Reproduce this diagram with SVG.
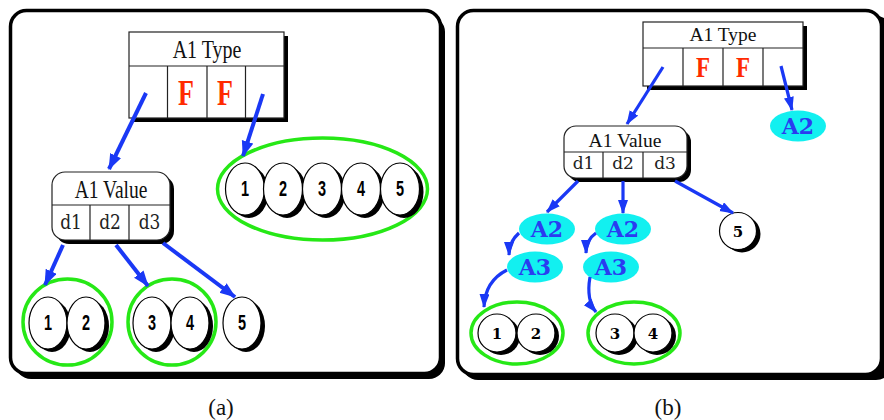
<svg xmlns="http://www.w3.org/2000/svg" width="884" height="420" viewBox="0 0 884 420">
  <style>
    .frame { fill: #fff; stroke: #000; stroke-width: 3.5; }
    .shadow { fill: #000; stroke: none; }
    .cell { fill: #fff; stroke: #222; stroke-width: 1.2; }
    .div { stroke: #222; stroke-width: 1.2; fill: none; }
    .serif { font-family: "Liberation Serif", "Times New Roman", serif; fill: #111; text-anchor: middle; }
    .mono { font-family: "DejaVu Serif", "Courier New", serif; fill: #222; text-anchor: middle; }
    .flag { font-family: "Liberation Serif", "Times New Roman", serif; font-weight: bold; fill: #ff2a00; text-anchor: middle; }
    .digit { font-family: "Liberation Sans", Arial, sans-serif; font-weight: bold; fill: #000; text-anchor: middle; }
    .digitb { font-family: "DejaVu Serif", "Courier New", serif; font-weight: bold; fill: #000; text-anchor: middle; }
    .ball { fill: #fff; stroke: #000; stroke-width: 1.2; }
    .ring { fill: none; stroke: #26e816; stroke-width: 3.5; }
    .tag { fill: #12f0f0; stroke: none; }
    .tagtxt { font-family: "DejaVu Serif", "Courier New", serif; font-weight: bold; font-size: 22px; fill: #2a3cf0; text-anchor: middle; }
    .link { fill: none; stroke: #1a38f5; stroke-linecap: butt; }
    .la { stroke-width: 4; marker-end: url(#headA); }
    .lb { stroke-width: 3.2; marker-end: url(#headB); }
    .cap { font-family: "Liberation Serif", "Times New Roman", serif; font-size: 23px; fill: #111; text-anchor: middle; }
  </style>
  <defs>
    <marker id="headA" markerUnits="userSpaceOnUse" markerWidth="18" markerHeight="14" refX="15" refY="6" orient="auto">
      <path d="M0,0 L16,6 L0,12 z" fill="#1a38f5"/>
    </marker>
    <marker id="headB" markerUnits="userSpaceOnUse" markerWidth="16" markerHeight="12" refX="13" refY="5" orient="auto">
      <path d="M0,0 L14,5 L0,10 z" fill="#1a38f5"/>
    </marker>
  </defs>

  <!-- panel frames -->
  <g id="frame-a">
    <rect class="shadow" x="15" y="16" width="430" height="363" rx="16"/>
    <rect class="frame" x="10.5" y="10.5" width="430" height="363" rx="16"/>
  </g>
  <g id="frame-b">
    <rect class="shadow" x="462" y="16" width="430" height="364" rx="16"/>
    <rect class="frame" x="457.5" y="10.5" width="424" height="364" rx="16"/>
  </g>

  <!-- ===== panel (a) ===== -->
  <g id="a-type">
    <rect class="shadow" x="133" y="36" width="155" height="86"/>
    <rect class="cell" x="129" y="32" width="155" height="86"/>
    <path class="div" d="M129,66 H284 M167.5,66 V118 M207,66 V118 M245.5,66 V118"/>
    <text class="serif" font-size="20" transform="translate(207,58) scale(1,1.25)">A1 Type</text>
    <text class="flag" font-size="26" transform="translate(186,105) scale(1,1.4)">F</text>
    <text class="flag" font-size="26" transform="translate(225,105) scale(1,1.4)">F</text>
  </g>

  <g id="a-value">
    <rect class="shadow" x="56" y="176" width="118" height="68" rx="13"/>
    <rect class="cell" x="52" y="172" width="118" height="68" rx="13"/>
    <path class="div" d="M52,205 H170 M90,205 V240 M129,205 V240"/>
    <text class="serif" font-size="19.5" transform="translate(111,198) scale(1,1.25)">A1 Value</text>
    <text class="mono" font-size="17" transform="translate(71,229) scale(1,1.25)">d1</text>
    <text class="mono" font-size="17" transform="translate(110,229) scale(1,1.25)">d2</text>
    <text class="mono" font-size="17" transform="translate(149.5,229) scale(1,1.25)">d3</text>
  </g>

  <g id="a-set12345">
    <ellipse class="ring" cx="322.5" cy="189" rx="105" ry="51"/>
    <ellipse class="shadow" cx="249" cy="192" rx="19.5" ry="26"/>
    <ellipse class="ball" cx="245" cy="189" rx="19.5" ry="26"/>
    <ellipse class="shadow" cx="287" cy="192" rx="19.5" ry="26"/>
    <ellipse class="ball" cx="283" cy="189" rx="19.5" ry="26"/>
    <ellipse class="shadow" cx="326" cy="192" rx="19.5" ry="26"/>
    <ellipse class="ball" cx="322" cy="189" rx="19.5" ry="26"/>
    <ellipse class="shadow" cx="365" cy="192" rx="19.5" ry="26"/>
    <ellipse class="ball" cx="361" cy="189" rx="19.5" ry="26"/>
    <ellipse class="shadow" cx="404" cy="192" rx="19.5" ry="26"/>
    <ellipse class="ball" cx="400" cy="189" rx="19.5" ry="26"/>
    <text class="digit" font-size="17" transform="translate(245,196) scale(0.85,1.3)">1</text>
    <text class="digit" font-size="17" transform="translate(283,196) scale(0.85,1.3)">2</text>
    <text class="digit" font-size="17" transform="translate(322,196) scale(0.85,1.3)">3</text>
    <text class="digit" font-size="17" transform="translate(361,196) scale(0.85,1.3)">4</text>
    <text class="digit" font-size="17" transform="translate(400,196) scale(0.85,1.3)">5</text>
  </g>

  <g id="a-set12">
    <ellipse class="ring" cx="67.5" cy="322" rx="44.5" ry="43"/>
    <ellipse class="shadow" cx="52" cy="326" rx="19" ry="26"/>
    <ellipse class="ball" cx="48" cy="323" rx="19" ry="26"/>
    <ellipse class="shadow" cx="90" cy="326" rx="19" ry="26"/>
    <ellipse class="ball" cx="86" cy="323" rx="19" ry="26"/>
    <text class="digit" font-size="17" transform="translate(48,330) scale(0.85,1.3)">1</text>
    <text class="digit" font-size="17" transform="translate(86,330) scale(0.85,1.3)">2</text>
  </g>

  <g id="a-set34">
    <ellipse class="ring" cx="172" cy="322" rx="44" ry="43"/>
    <ellipse class="shadow" cx="156" cy="326" rx="19" ry="26"/>
    <ellipse class="ball" cx="152" cy="323" rx="19" ry="26"/>
    <ellipse class="shadow" cx="194" cy="326" rx="19" ry="26"/>
    <ellipse class="ball" cx="190" cy="323" rx="19" ry="26"/>
    <text class="digit" font-size="17" transform="translate(152,330) scale(0.85,1.3)">3</text>
    <text class="digit" font-size="17" transform="translate(190,330) scale(0.85,1.3)">4</text>
  </g>

  <g id="a-item5">
    <ellipse class="shadow" cx="246" cy="326" rx="19" ry="26"/>
    <ellipse class="ball" cx="242" cy="323" rx="19" ry="26"/>
    <text class="digit" font-size="17" transform="translate(242,330) scale(0.85,1.3)">5</text>
  </g>

  <!-- ===== panel (b) ===== -->
  <g id="b-type">
    <rect class="shadow" x="647" y="26" width="160" height="64"/>
    <rect class="cell" x="643" y="22" width="160" height="64"/>
    <path class="div" d="M643,48 H803 M683,48 V86 M723,48 V86 M763,48 V86"/>
    <text class="serif" font-size="19.5" x="723" y="41">A1 Type</text>
    <text class="flag" font-size="23" transform="translate(703,77) scale(1,1.25)">F</text>
    <text class="flag" font-size="23" transform="translate(743,77) scale(1,1.25)">F</text>
  </g>

  <g id="b-value">
    <rect class="shadow" x="568" y="130" width="123" height="52" rx="12"/>
    <rect class="cell" x="564" y="126" width="123" height="52" rx="12"/>
    <path class="div" d="M564,152 H687 M603,152 V178 M643,152 V178"/>
    <text class="serif" font-size="19.5" x="625" y="147">A1 Value</text>
    <text class="mono" font-size="17" x="583.5" y="169">d1</text>
    <text class="mono" font-size="17" x="623" y="169">d2</text>
    <text class="mono" font-size="17" x="665" y="169">d3</text>
  </g>

  <g id="b-a2-top">
    <ellipse class="tag" cx="798" cy="126" rx="28" ry="15.5"/>
    <text class="tagtxt" x="798" y="134">A2</text>
  </g>
  <g id="b-a2-left">
    <ellipse class="tag" cx="547" cy="229" rx="28" ry="15.5"/>
    <text class="tagtxt" x="547" y="237">A2</text>
  </g>
  <g id="b-a2-mid">
    <ellipse class="tag" cx="623" cy="229" rx="28" ry="15.5"/>
    <text class="tagtxt" x="623" y="237">A2</text>
  </g>
  <g id="b-a3-left">
    <ellipse class="tag" cx="535" cy="267" rx="28" ry="15.5"/>
    <text class="tagtxt" x="535" y="275">A3</text>
  </g>
  <g id="b-a3-mid">
    <ellipse class="tag" cx="611" cy="267" rx="28" ry="15.5"/>
    <text class="tagtxt" x="611" y="275">A3</text>
  </g>

  <g id="b-item5">
    <circle class="shadow" cx="742" cy="234" r="18.5"/>
    <circle class="ball" cx="738" cy="231" r="18.5"/>
    <text class="digitb" font-size="15" x="738" y="236.5">5</text>
  </g>

  <g id="b-set12">
    <ellipse class="ring" cx="517" cy="333" rx="46" ry="31"/>
    <circle class="shadow" cx="501" cy="336" r="19"/>
    <circle class="ball" cx="497" cy="333" r="19"/>
    <circle class="shadow" cx="540" cy="336" r="19"/>
    <circle class="ball" cx="536" cy="333" r="19"/>
    <text class="digitb" font-size="15" x="497" y="338.5">1</text>
    <text class="digitb" font-size="15" x="536" y="338.5">2</text>
  </g>

  <g id="b-set34">
    <ellipse class="ring" cx="634" cy="333" rx="46" ry="31"/>
    <circle class="shadow" cx="619" cy="336" r="19"/>
    <circle class="ball" cx="615" cy="333" r="19"/>
    <circle class="shadow" cx="657" cy="336" r="19"/>
    <circle class="ball" cx="653" cy="333" r="19"/>
    <text class="digitb" font-size="15" x="615" y="338.5">3</text>
    <text class="digitb" font-size="15" x="653" y="338.5">4</text>
  </g>

  <!-- connectors -->
  <g id="connectors">
    <path class="link la" d="M146,93 L109,169"/>
    <path class="link la" d="M263,94 L243,156"/>
    <path class="link la" d="M63,245 L45,285"/>
    <path class="link la" d="M116,245 L148,286"/>
    <path class="link la" d="M163,243 L235,297"/>

    <path class="link lb" d="M663,67 L627,124"/>
    <path class="link lb" d="M781,66 L792,110"/>
    <path class="link lb" d="M578,181 L547,212"/>
    <path class="link lb" d="M623,181 L623,213"/>
    <path class="link lb" d="M675,181 L733,213"/>
    <path class="link lb" d="M519,233 Q509,242 509,255"/>
    <path class="link lb" d="M507,270 Q485,281 484,307"/>
    <path class="link lb" d="M596,233 Q586,240 586,253"/>
    <path class="link lb" d="M590,277 Q586,300 596,312"/>
  </g>

  <!-- captions -->
  <text class="cap" x="221" y="415">(a)</text>
  <text class="cap" x="668" y="415">(b)</text>
</svg>
